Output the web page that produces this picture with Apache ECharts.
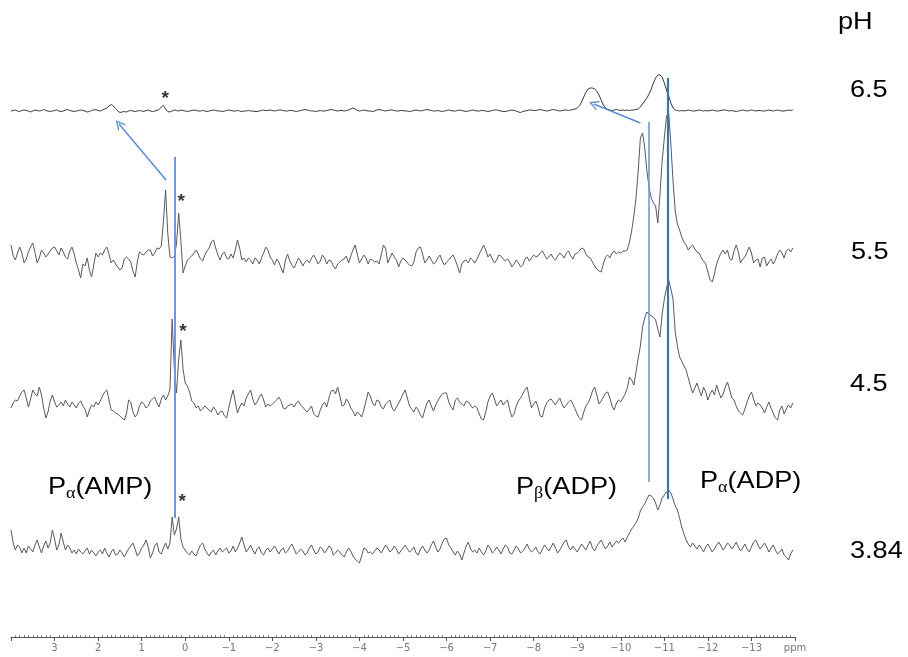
<!DOCTYPE html>
<html>
<head>
<meta charset="utf-8">
<script src="https://cdn.jsdelivr.net/npm/echarts@6/dist/echarts.min.js"></script>
<style>
  html, body { margin: 0; padding: 0; background: #fff; }
  #chart { width: 908px; height: 657px; }
</style>
</head>
<body>
<div id="chart"></div>
<script>
// 31P NMR spectra of the same sample at four pH values, stacked.
// Chemical shift grid: 4.00 ppm down to -13.95 ppm in 0.05 ppm steps.
const ppmStart = 4.0;
const ppmStep = 0.05;
const pointCount = 360;

const pHLabels = ['6.5', '5.5', '4.5', '3.84'];

// Relative intensities (arbitrary units) along the shift grid.
const trace65 = [
  0,0.5,1,0,-0.5,0.5,1,0.5,0,-1,0,1,0.5,0,0.5,1.5,0.5,0,-0.5,0,
  0.5,1,0,-0.5,0,1,1.5,0.5,0,-0.5,0,0.5,1,0.5,0,-1,-0.5,0.5,1,1.5,
  0.5,0,1,2,3,5,6.5,5,2.5,0,-1.5,-1,-0.5,-1,0,0.5,0,-0.5,0,0.5,
  0,-0.5,0.5,1,0,-0.5,0,0.5,1.5,4,5.5,2,-0.5,-1,0,1,0.5,0,1,0.5,
  0,-0.5,0,0.5,1,0.5,0,0,0.5,0,-0.5,0,0.5,1,0.5,0,0,-0.5,0,0.5,
  1,0.5,0,0,0.5,0,-0.5,0,0,0.5,0,0,-0.5,-0.5,0,0.5,1,0.5,0.5,1,
  0.5,0,0.5,1,1,0.5,0,0,0.5,0.5,0,-0.5,0,0.5,1,1.5,1,0.5,0,0,
  -0.5,0,0.5,0,0,0.5,1,1.5,1,0.5,0,0.5,0.5,0,0.5,1,2,3,2,0.5,
  0,0.5,1,0.5,0,0,-0.5,0,1,1.5,1,0.5,0,0.5,1,1,0.5,0,0,0.5,
  0.5,0,0,-0.5,0,0.5,1,0.5,0,0.5,1,1.5,1,0.5,0,0,0.5,0,-0.5,0,
  0.5,1,0.5,0,0,0.5,1,0.5,0,-0.5,0,0.5,1,0.5,0,0,0.5,0.5,0,-0.5,
  0,0.5,1,1,0.5,0,-0.5,-0.5,0,0.5,1,0.5,0,-1,-1.5,-0.5,0,0.5,1,1,
  0.5,0.5,1,1.5,1,0.5,0,0.5,1,1.5,1,0.5,0,0.5,1,1,0.5,1,1.5,2,
  3,5,9,14,19,22,23,23,22,20,16,11,6,3,1.5,1,0.5,1,1.5,1,
  0.5,1,0.5,1,0.5,1,1,1.5,2,4,7,10,13,17,22,28,33,36,36,34,
  28,21,15,8,3,1,0.5,0,0.5,0,0.5,1,0.5,0,0,0.5,1,0.5,0,0.5,
  0,0.5,1,0.5,0,0,0.5,1,1,0.5,0,0.5,0,-0.5,0,0.5,1,0.5,0,0.5,
  1,0.5,0,0.5,0.5,0,0,0.5,1,0.5,0,0.5,1,0.5,0,0,0.5,1,0.5,1
];

const trace55 = [
  11,0,-4,3,9,3,-7,-3,4,9,13,4,-7,-2,6,3,-1,2,5,8,
  9,5,1,8,4,-1,-3,5,9,2,-7,-14,-22,-8,-10,-2,-14,-21,-9,3,
  -1,3,1,6,9,2,-7,-4,-8,-11,-14,-12,-3,-1,-3,-6,-15,-21,-6,4,
  2,1,4,6,6,0,3,8,7,10,35,66,22,-1,-2,0,12,43,15,-17,
  -10,-4,-2,0,3,6,2,-3,-5,1,5,8,14,16,8,1,-4,2,4,-2,
  -3,2,-2,6,16,8,-4,-2,-6,-2,-4,-8,-2,-4,-8,-2,3,9,6,-1,
  -4,-9,-3,-6,-12,-17,-4,2,-5,-9,-12,-7,-2,-5,-10,-6,-4,-7,-2,1,
  -3,-8,-5,1,-2,-8,-4,-5,-10,-13,-8,-6,-4,-3,0,-7,0,6,11,2,
  -7,-3,1,-2,-8,-3,-4,-6,-5,-8,1,11,8,-7,-2,3,-1,-4,-11,-5,
  -2,-4,-7,-9,-10,-6,4,8,9,2,-7,-4,0,-4,-8,-6,-2,1,-5,-9,
  -6,-4,-1,1,-4,-10,-17,-8,-5,-4,-7,-2,-4,-7,-3,2,6,11,6,-1,
  2,-3,-7,-4,1,0,-3,-5,-3,-6,-11,-8,-4,-7,-11,-9,-3,-1,-5,-2,
  1,-1,0,3,5,1,-3,-1,2,-2,-4,0,3,1,-2,3,5,0,-3,2,
  3,5,8,7,2,-1,-2,-6,-10,-13,-15,-16,-8,-1,1,-2,3,5,2,4,
  3,5,5,6,14,25,40,58,85,118,123,108,85,68,58,53,50,33,62,95,
  118,140,143,112,75,45,32,26,19,14,11,6,9,11,7,4,3,-2,-5,-8,
  -16,-24,-26,-18,-8,-2,3,6,2,6,-3,-4,5,11,4,-7,-3,-1,4,9,
  3,-7,-4,-3,-11,-2,-1,-10,-6,-3,-8,-4,2,6,3,-2,5,7,4,8
];

const trace45 = [
  -4,1,4,3,8,12,14,6,-3,5,14,10,8,17,9,-4,-14,-8,3,9,
  2,-3,-1,2,-2,4,0,-3,2,-1,-4,1,3,-2,-5,-13,-6,-1,-3,2,
  -1,3,8,12,14,4,-6,-7,-9,-10,-12,-14,-16,-10,4,2,-8,-13,-10,-2,
  2,0,-4,-2,3,5,7,1,-3,5,9,4,8,15,85,35,11,45,64,35,
  21,18,12,3,1,-4,-2,-7,-5,-2,-4,-6,-8,-3,-6,-11,-8,-7,-12,-14,
  -4,6,14,2,-9,-3,1,-2,6,10,14,5,-1,2,7,10,4,-3,0,-2,
  0,2,4,7,3,-4,-5,-2,-1,0,-3,1,3,-1,-3,-6,-8,-5,-2,-10,
  -12,-13,-6,-1,2,-3,6,13,14,10,17,8,-2,-1,5,2,-4,-7,-12,-8,
  -10,-13,-6,3,12,8,1,-2,4,3,-3,-5,0,2,4,-4,-7,-3,1,5,
  10,14,6,-2,-5,-8,-3,-6,-11,-14,-6,1,4,-2,-7,-1,3,7,10,11,
  11,2,-3,-6,4,6,2,0,-2,3,2,-1,-4,-2,-4,-10,-15,-16,-8,2,
  8,11,5,-2,1,4,-1,2,4,-6,-13,-10,-2,3,6,10,14,17,6,-4,
  0,3,-3,-12,-13,-4,1,4,5,2,-1,3,6,0,-4,-1,2,4,0,-5,
  -10,-14,-16,-8,-2,1,6,13,17,9,0,3,7,11,12,6,-2,-6,1,4,
  2,6,10,16,27,24,19,32,46,58,77,86,92,90,88,87,84,75,67,90,
  105,116,124,115,105,72,58,47,43,38,34,26,18,11,16,21,14,8,17,12,
  4,10,14,9,19,12,6,10,17,22,14,6,4,-2,-7,-9,-11,-5,2,8,
  12,5,-2,1,-1,-4,-9,-3,2,-4,-9,-14,-16,-6,-2,-10,-5,-1,-4,1
];

const trace384 = [
  21,8,1,6,4,-2,3,-2,5,2,-1,6,11,4,-2,5,10,3,8,21,
  12,1,6,18,9,1,6,3,-2,1,-3,2,-1,-3,0,3,-3,1,-2,-5,
  -1,1,-3,3,-2,-6,-1,2,-4,-3,1,-2,-6,-2,2,5,8,2,-5,-2,
  3,6,11,4,-7,-2,5,8,-1,-3,3,8,2,8,34,16,22,34,12,4,
  1,-2,-4,0,-3,-5,1,6,8,2,-2,-5,-1,1,-4,0,3,-1,1,3,
  -2,0,5,-1,3,8,14,6,-1,2,6,1,-3,2,4,-2,-4,1,3,-1,
  2,5,1,-3,1,3,-2,0,4,7,2,-3,-1,2,0,-4,-2,3,6,1,
  -3,-1,4,2,-2,1,5,3,-4,-2,1,-1,-4,-6,-1,3,0,-5,-8,-10,
  -12,-5,3,2,-2,-1,-3,0,3,1,-2,2,6,3,-1,1,5,2,-3,0,
  3,6,2,-1,1,4,-2,-4,2,5,1,-2,1,6,10,4,-1,2,8,12,
  13,6,3,-1,-4,0,-3,-9,-2,5,9,2,-1,1,-2,3,-1,-4,0,6,
  3,-2,0,4,1,-3,2,6,4,-2,-3,1,5,2,-2,0,3,7,2,-1,
  1,4,-1,-3,2,6,3,0,4,8,3,-2,1,5,9,11,4,1,5,2,
  -1,3,7,4,1,6,10,3,0,5,8,11,6,2,5,9,4,7,10,8,
  11,13,9,14,18,22,25,28,33,40,44,47,52,56,55,53,48,41,46,53,
  56,59,61,58,52,45,41,33,24,17,11,7,4,8,5,2,6,3,-1,4,
  7,3,-1,2,6,9,5,1,4,8,6,2,5,9,4,0,3,7,2,-1,
  4,9,11,6,2,5,8,4,-1,3,6,1,-3,-1,2,-4,-6,-9,-3,1
];

// Vertical stacking offset of each spectrum (same order as pHLabels).
const stackOffsets = [526, 381, 233, 86];

// Peak assignment guides: shift (ppm) and vertical extent (intensity units).
const guideShifts = [0.25, -10.64, -11.08];
const guideTops = [480, 515, 559];
const guideBottoms = [119, 155, 138];

// Arrows following the peaks as the pH rises: [fromPpm, fromY, toPpm, toY].
const arrowPaths = [
  [0.44, 457, 1.52, 513],
  [-10.45, 514, -9.38, 533]
];

// Spinning-sideband / impurity markers: shift and height.
const starShifts = [0.46, 0.09, 0.05, 0.07];
const starHeights = [538, 435, 305, 135];

const ppmGrid = [];
for (let i = 0; i < pointCount; i++) {
  ppmGrid.push(+(ppmStart - i * ppmStep).toFixed(2));
}

const traces = [trace65, trace55, trace45, trace384];

function buildTrace(values, offset) {
  return values.map((v, i) => [ppmGrid[i], offset + v]);
}

const traceSeries = traces.map((values, k) => ({
  type: 'line',
  name: 'pH ' + pHLabels[k],
  data: buildTrace(values, stackOffsets[k]),
  showSymbol: false,
  symbol: 'none',
  smooth: false,
  lineStyle: { color: k === 0 ? '#3a3a3a' : '#5a5a5a', width: 1 },
  silent: true,
  z: 2
}));

const guideColors = ['#6d9bd6', '#6d9bd6', '#3f70b8'];
const guideWidths = [2, 1.6, 2.2];

const guideSeries = {
  type: 'lines',
  coordinateSystem: 'cartesian2d',
  polyline: false,
  symbol: 'none',
  data: guideShifts.map((p, i) => ({
    coords: [[p, guideTops[i]], [p, guideBottoms[i]]],
    lineStyle: { color: guideColors[i], width: guideWidths[i], opacity: 1 }
  })),
  lineStyle: { opacity: 1 },
  silent: true,
  z: 5
};

const openArrow = 'path://M5,0 L10,9 L8.8,9.6 L5,2.6 L1.2,9.6 L0,9 Z';

const arrowSeries = {
  type: 'lines',
  coordinateSystem: 'cartesian2d',
  symbol: ['none', openArrow],
  symbolSize: [10, 10],
  lineStyle: { color: '#5a8ed0', width: 1.5, opacity: 1 },
  data: arrowPaths.map(a => ({ coords: [[a[0], a[1]], [a[2], a[3]]] })),
  silent: true,
  z: 6
};

const starSeries = {
  type: 'scatter',
  symbolSize: 0,
  data: starShifts.map((p, i) => [p, starHeights[i]]),
  label: {
    show: true,
    position: 'inside',
    formatter: '*',
    fontSize: 19,
    fontWeight: 'bold',
    fontFamily: 'Liberation Sans',
    color: '#000'
  },
  silent: true,
  z: 7
};

function axisText(v) {
  if (v === 4) return '';
  if (v === -14) return 'ppm';
  return v < 0 ? '\u2212' + (-v) : String(v);
}

const chart = echarts.init(document.getElementById('chart'), null, { renderer: 'canvas' });

const labelFont = '24px "Liberation Sans", Arial, sans-serif';
const textStretch = 1.13;

function assignment(text, x, y) {
  return {
    type: 'text',
    x: x,
    y: y,
    scaleX: textStretch,
    style: {
      text: text,
      font: labelFont,
      fill: '#000',
      textVerticalAlign: 'middle',
      rich: {
        sub: {
          fontSize: 16,
          fontFamily: 'Liberation Serif',
          verticalAlign: 'bottom',
          lineHeight: 30,
          padding: [12, 0, 0, 0]
        }
      }
    }
  };
}

function plainText(text, x, y) {
  return {
    type: 'text',
    x: x,
    y: y,
    scaleX: textStretch,
    style: { text: text, font: labelFont, fill: '#000', textVerticalAlign: 'middle' }
  };
}

chart.setOption({
  animation: false,
  backgroundColor: '#fff',
  grid: { left: 11, right: 113, top: 37, bottom: 20, containLabel: false },
  xAxis: [
    {
      type: 'value',
      min: -14,
      max: 4,
      interval: 1,
      inverse: true,
      axisLine: { show: true, lineStyle: { color: '#555', width: 1 } },
      axisTick: { show: true, length: 4, lineStyle: { color: '#555' } },
      axisLabel: {
        show: true,
        formatter: axisText,
        fontSize: 10,
        fontFamily: 'DejaVu Sans',
        color: '#777',
        margin: 6,
        showMinLabel: true,
        showMaxLabel: true
      },
      splitLine: { show: false }
    },
    {
      type: 'value',
      min: -14,
      max: 4,
      interval: 1,
      inverse: true,
      position: 'bottom',
      axisLine: { show: false },
      axisTick: { show: false, inside: true },
      axisLabel: { show: false },
      minorTick: { show: true, splitNumber: 10, length: 2, lineStyle: { color: '#888' } },
      splitLine: { show: false }
    }
  ],
  yAxis: { type: 'value', min: 0, max: 600, show: false },
  series: traceSeries.concat([guideSeries, arrowSeries, starSeries]),
  graphic: [
    plainText('pH', 838, 22),
    plainText(pHLabels[0], 850, 90),
    plainText(pHLabels[1], 851, 252),
    plainText(pHLabels[2], 850, 384),
    plainText(pHLabels[3], 850, 551),
    assignment('P{sub|\u03b1}(AMP)', 48, 487),
    assignment('P{sub|\u03b2}(ADP)', 516, 487),
    assignment('P{sub|\u03b1}(ADP)', 700, 481)
  ]
});
</script>
</body>
</html>
